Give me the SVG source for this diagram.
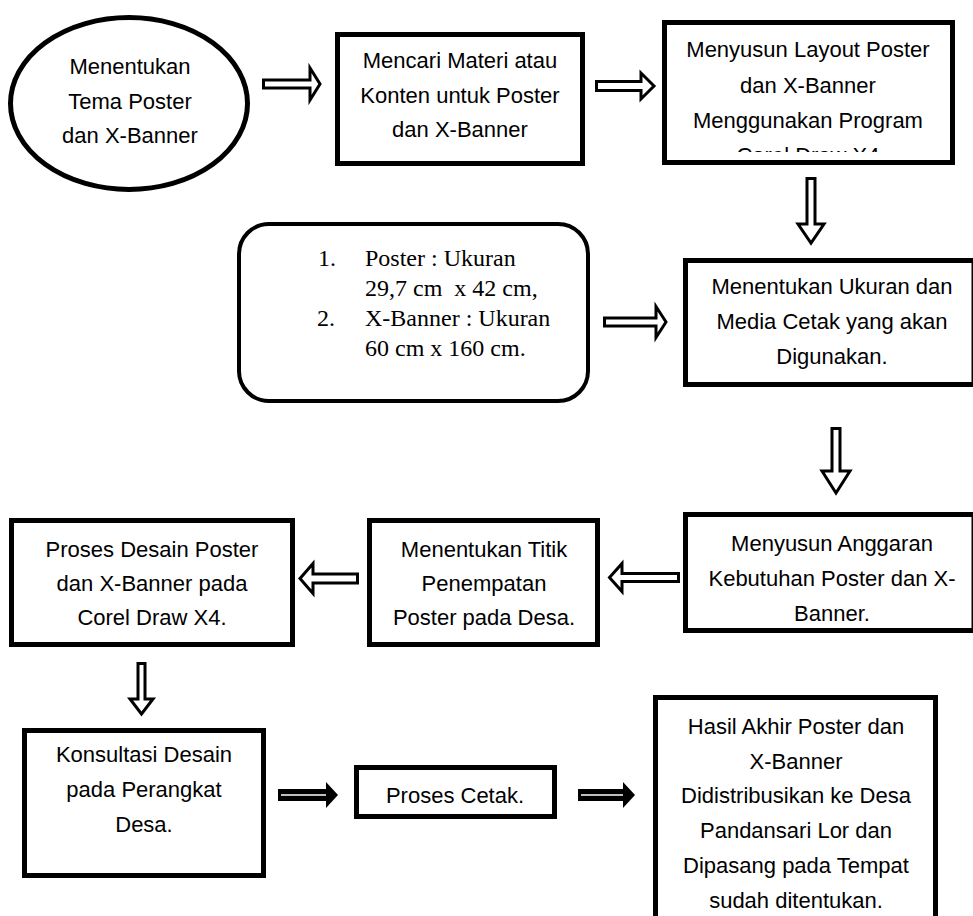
<svg xmlns="http://www.w3.org/2000/svg" width="973" height="916" viewBox="0 0 973 916">
<style>
  .box { fill: #fff; stroke: #000; stroke-width: 5; }
  .t { font-family: "Liberation Sans", Arial, sans-serif; font-size: 22px; fill: #000; text-anchor: middle; }
  .s { font-family: "Liberation Serif", "Times New Roman", serif; font-size: 24px; fill: #000; white-space: pre; }
  .ha { fill: #fff; stroke: #000; stroke-width: 3; stroke-linejoin: miter; }
  .sa { fill: #000; }
  .sl { stroke: #fff; stroke-width: 1.6; }
</style>
<defs>
  <clipPath id="clip3"><rect x="667" y="25" width="283" height="127"/></clipPath>
</defs>
<rect width="973" height="916" fill="#fff"/>

<g id="n1">
  <ellipse class="box" cx="129" cy="103.5" rx="118.5" ry="86"/>
  <text class="t" x="130" y="74">Menentukan</text>
  <text class="t" x="130" y="109">Tema Poster</text>
  <text class="t" x="130" y="143">dan X-Banner</text>
</g>

<g id="n2">
  <rect class="box" x="337.5" y="34.5" width="245" height="129"/>
  <text class="t" x="460" y="68">Mencari Materi atau</text>
  <text class="t" x="460" y="102.5">Konten untuk Poster</text>
  <text class="t" x="460" y="137">dan X-Banner</text>
</g>

<g id="n3">
  <rect class="box" x="664.5" y="22.5" width="288" height="140"/>
  <g clip-path="url(#clip3)">
    <text class="t" x="808" y="57">Menyusun Layout Poster</text>
    <text class="t" x="808" y="92.5">dan X-Banner</text>
    <text class="t" x="808" y="127.5">Menggunakan Program</text>
    <text class="t" x="808" y="162.5">Corel Draw X4</text>
  </g>
</g>

<g id="n4">
  <rect class="box" x="239" y="224" width="349" height="177" rx="30" ry="30" style="stroke-width:4"/>
  <text class="s" x="318" y="265.5">1.</text>
  <text class="s" x="365" y="265.5">Poster : Ukuran</text>
  <text class="s" x="365" y="295.5">29,7 cm  x 42 cm,</text>
  <text class="s" x="317" y="325.5">2.</text>
  <text class="s" x="365" y="325.5">X-Banner : Ukuran</text>
  <text class="s" x="365" y="355.5">60 cm x 160 cm.</text>
</g>

<g id="n5">
  <rect class="box" x="685.5" y="260.5" width="288.5" height="124"/>
  <text class="t" x="832" y="294">Menentukan Ukuran dan</text>
  <text class="t" x="832" y="329">Media Cetak yang akan</text>
  <text class="t" x="832" y="364">Digunakan.</text>
</g>

<g id="n6">
  <rect class="box" x="685.5" y="514.5" width="288.5" height="116"/>
  <text class="t" x="832" y="551">Menyusun Anggaran</text>
  <text class="t" x="832" y="586">Kebutuhan Poster dan X-</text>
  <text class="t" x="832" y="621">Banner.</text>
</g>

<g id="n7">
  <rect class="box" x="369.5" y="520.5" width="228" height="124"/>
  <text class="t" x="484" y="557">Menentukan Titik</text>
  <text class="t" x="484" y="591">Penempatan</text>
  <text class="t" x="484" y="625">Poster pada Desa.</text>
</g>

<g id="n8">
  <rect class="box" x="11.5" y="520.5" width="281" height="124"/>
  <text class="t" x="152" y="557">Proses Desain Poster</text>
  <text class="t" x="152" y="591">dan X-Banner pada</text>
  <text class="t" x="152" y="625">Corel Draw X4.</text>
</g>

<g id="n9">
  <rect class="box" x="24.5" y="730.5" width="239" height="145"/>
  <text class="t" x="144" y="762">Konsultasi Desain</text>
  <text class="t" x="144" y="797">pada Perangkat</text>
  <text class="t" x="144" y="832">Desa.</text>
</g>

<g id="n10">
  <rect class="box" x="356.5" y="767.5" width="198" height="49"/>
  <text class="t" x="455" y="803">Proses Cetak.</text>
</g>

<g id="n11">
  <rect class="box" x="655.5" y="697.5" width="280" height="240"/>
  <text class="t" x="796" y="734">Hasil Akhir Poster dan</text>
  <text class="t" x="796" y="769">X-Banner</text>
  <text class="t" x="796" y="803">Didistribusikan ke Desa</text>
  <text class="t" x="796" y="838">Pandansari Lor dan</text>
  <text class="t" x="796" y="873">Dipasang pada Tempat</text>
  <text class="t" x="796" y="908">sudah ditentukan.</text>
</g>

<g id="connectors">
  <path class="ha" d="M263.5,80 H310 V68 L320,84 L310,100 V88 H263.5 Z"/>
  <path class="ha" d="M596.5,81.5 H641 V73 L654,86 L641,99 V90.5 H596.5 Z"/>
  <path class="ha" d="M807,178.5 H815 V224 H824 L811,243 L798,224 H807 Z"/>
  <path class="ha" d="M604.5,318 H656 V306.5 L666,322 L656,337.5 V326 H604.5 Z"/>
  <path class="ha" d="M832,428.5 H840 V471 H850 L836,493 L822,471 H832 Z"/>
  <path class="ha" d="M678.5,573.5 H622 V563.5 L609.5,577.5 L622,591.5 V581.5 H678.5 Z"/>
  <path class="ha" d="M357.5,574 H313 V563.5 L300,578.5 L313,593.5 V583 H357.5 Z"/>
  <path class="ha" d="M138,663.5 H145 V699 H153 L141.5,714 L130,699 H138 Z"/>
  <path class="sa" d="M278,789 H326 V782 L338,795 L326,808 V801 H278 Z"/>
  <line class="sl" x1="281" y1="795" x2="326" y2="795"/>
  <path class="sa" d="M578,789 H623 V782 L635,795 L623,808 V801 H578 Z"/>
  <line class="sl" x1="581" y1="795" x2="623" y2="795"/>
</g>
</svg>
